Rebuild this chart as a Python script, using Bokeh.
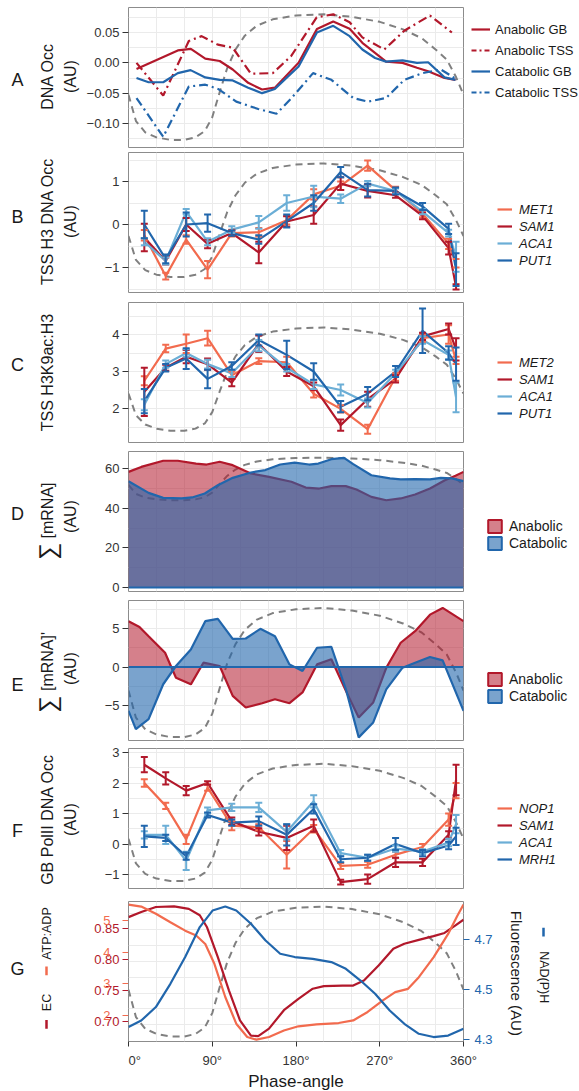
import math
from bokeh.plotting import figure
from bokeh.models import (Range1d, LinearAxis, FixedTicker, Label, Legend, LegendItem,
                          Whisker, TeeHead, ColumnDataSource, Span)
from bokeh.layouts import column, row
from bokeh.embed import file_html
from bokeh.resources import INLINE

# ------------------------------------------------------------------ data
phase_ticks = [0, 90, 180, 270, 360]
phase_labels = ["0°", "90°", "180°", "270°", "360°"]

# dashed reference trace (normalised 0..1), drawn in every panel
ref_x = [0, 8, 18, 30, 45, 60, 72, 82, 90, 98, 106, 115, 125, 138, 155, 180, 210, 240, 270, 295, 315, 330, 342, 352, 360]
ref_n = [0.36, 0.15, 0.06, 0.02, 0.0, 0.0, 0.02, 0.07, 0.18, 0.38, 0.57, 0.72, 0.83, 0.91, 0.96, 0.99, 1.0, 0.98, 0.94, 0.88, 0.81, 0.72, 0.64, 0.5, 0.36]
ref_lim = {"A": (-0.127, 0.080), "B": (-1.22, 1.42), "C": (1.40, 4.19), "D": (44.0, 65.5),
           "E": (-9.1, 7.67), "F": (-1.21, 2.63), "G": (0.6815, 0.8868)}

# Panel A: DNA occupancy
a_agb_x = [8.6, 53, 67, 82.5, 98, 112, 128.6, 143.5, 157.3, 182.8, 202.5, 220, 237.6, 251.3, 276.8, 294.5, 310, 322, 339.6, 351.4]
a_agb_y = [-0.010, 0.0205, 0.023, 0.007, 0.003, -0.011, -0.033, -0.044, -0.041, 0.000, 0.0556, 0.068, 0.056, 0.033, 0.002, 0.000, -0.008, -0.014, -0.025, -0.028]
a_atss_x = [8.6, 37.3, 64.8, 78.5, 96, 112, 131.5, 155, 174.7, 202.2, 220, 237.6, 251.3, 274.9, 296.4, 323.9, 347.5]
a_atss_y = [0.000, -0.054, 0.036, 0.044, 0.030, 0.025, -0.018, -0.017, 0.011, 0.075, 0.080, 0.067, 0.042, 0.022, 0.053, 0.078, 0.050]
a_cgb_x = [8.6, 21.6, 37.3, 53, 66.7, 82.5, 98, 112, 128.6, 143.5, 157.3, 182.8, 202.5, 220, 237.6, 251.3, 265, 276.8, 294.5, 310, 322, 339.6, 351.4]
a_cgb_y = [-0.025, -0.032, -0.032, -0.017, -0.012, -0.024, -0.028, -0.029, -0.041, -0.050, -0.043, -0.006, 0.050, 0.061, 0.044, 0.022, 0.008, 0.002, 0.004, 0.000, 0.001, -0.024, -0.028]
a_ctss_x = [8.6, 37.3, 64.8, 82.5, 96.2, 115.8, 139.4, 159, 174.7, 198.3, 218, 241.5, 257.2, 276.8, 296.4, 316, 335.7, 351.4]
a_ctss_y = [-0.058, -0.122, -0.039, -0.036, -0.043, -0.064, -0.076, -0.084, -0.059, -0.017, -0.028, -0.058, -0.064, -0.058, -0.028, -0.017, -0.011, -0.026]

# sampling phases for B, C, F
phase = [17, 40, 62, 85, 111, 140, 170, 199, 228, 257, 287, 316, 344, 352]

# Panel B: TSS H3 DNA occupancy
b_met1 = [-0.25, -1.2, -0.35, -1.05, -0.2, -0.18, 0.1, 0.7, 0.9, 1.37, 0.8, 0.25, -0.45, -0.9]
b_met1_e = [0.12, 0.08, 0.1, 0.2, 0.08, 0.1, 0.1, 0.12, 0.1, 0.12, 0.08, 0.08, 0.12, 0.1]
b_sam1 = [-0.3, -0.85, 0.0, -0.45, -0.2, -0.65, 0.07, 0.22, 0.95, 0.78, 0.68, 0.2, -0.55, -1.45]
b_sam1_e = [0.32, 0.08, 0.15, 0.1, 0.06, 0.25, 0.12, 0.2, 0.15, 0.15, 0.06, 0.08, 0.15, 0.06]
b_aca1 = [-0.4, -0.85, 0.3, -0.4, -0.12, 0.05, 0.5, 0.65, 0.6, 0.95, 0.78, 0.3, -0.2, -0.75]
b_aca1_e = [0.08, 0.08, 0.06, 0.08, 0.08, 0.15, 0.18, 0.25, 0.1, 0.06, 0.06, 0.06, 0.08, 0.35]
b_put1 = [0.0, -0.8, 0.0, 0.03, -0.2, -0.35, 0.08, 0.5, 1.22, 0.8, 0.78, 0.42, -0.1, -1.05]
b_put1_e = [0.32, 0.1, 0.28, 0.2, 0.06, 0.1, 0.15, 0.18, 0.12, 0.15, 0.08, 0.08, 0.12, 0.38]

# Panel C: TSS H3K9ac:H3
c_met2 = [2.75, 3.62, 3.75, 3.9, 2.9, 3.28, 3.25, 2.4, 1.99, 1.44, 2.85, 3.9, 4.0, 3.3]
c_met2_e = [0.12, 0.1, 0.25, 0.2, 0.1, 0.08, 0.15, 0.1, 0.1, 0.12, 0.1, 0.1, 0.25, 0.1]
c_sam1 = [2.45, 3.1, 3.4, 3.2, 2.7, 3.75, 3.0, 2.6, 1.55, 2.25, 2.8, 3.95, 4.15, 3.6]
c_sam1_e = [0.65, 0.08, 0.18, 0.15, 0.1, 0.22, 0.12, 0.1, 0.15, 0.2, 0.1, 0.1, 0.15, 0.3]
c_aca1 = [2.1, 3.2, 3.5, 3.2, 2.95, 3.7, 3.1, 2.65, 2.5, 2.15, 2.95, 3.85, 3.45, 2.3]
c_aca1_e = [0.15, 0.1, 0.1, 0.12, 0.1, 0.15, 0.1, 0.12, 0.15, 0.12, 0.1, 0.1, 0.12, 0.4]
c_put1 = [2.2, 3.1, 3.35, 2.8, 3.15, 3.85, 3.45, 3.0, 2.05, 2.4, 3.0, 4.1, 3.5, 3.2]
c_put1_e = [0.33, 0.1, 0.28, 0.25, 0.1, 0.15, 0.38, 0.22, 0.15, 0.18, 0.15, 0.6, 0.18, 0.45]

# Panel D: summed mRNA
d_ana_x = [0, 13.7, 37.3, 53, 72.6, 84, 98, 112, 131.5, 151, 175, 190.5, 205, 218, 233.5, 245, 261, 277, 292.5, 308, 324, 340, 351.4, 360]
d_ana_y = [58.3, 60.8, 63.9, 63.9, 62.5, 62.0, 63.4, 61.7, 57.5, 55.8, 53.3, 50.4, 49.9, 51.1, 51.1, 49.4, 45.7, 44.0, 44.9, 46.9, 49.9, 54.1, 56.3, 58.3]
d_cat_x = [0, 21.6, 37.3, 57, 68.3, 82, 96, 112, 131.5, 147, 163, 178.6, 194, 204, 218, 231.6, 241.5, 261, 281, 292.5, 308, 324, 335.6, 347.4, 360]
d_cat_y = [53.6, 47.7, 45.2, 44.9, 45.4, 47.4, 51.6, 55.3, 58.0, 59.2, 62.0, 63.0, 62.0, 62.5, 64.7, 65.4, 62.2, 56.6, 55.0, 54.5, 54.6, 54.5, 55.3, 55.0, 53.6]

# Panel E: derivative of summed mRNA
e_ana_x = [0, 11.8, 21.6, 39.3, 51, 67, 80.5, 98, 112, 126, 143.7, 157.4, 173, 187, 202.6, 218, 233.6, 247.4, 263, 277, 292.5, 308, 324, 337.6, 360]
e_ana_y = [5.95, 5.2, 4.0, 1.85, -1.4, -2.25, 0.56, 0.13, -3.75, -5.26, -4.7, -4.18, -4.7, -3.3, 0.34, 1.0, -3.1, -6.55, -4.6, -0.1, 3.15, 4.65, 6.8, 7.67, 5.95]
e_cat_x = [0, 7.9, 21.6, 37.3, 51, 67, 82.5, 96, 112, 126, 141.7, 157.4, 173, 187, 202.6, 218, 233.6, 247.4, 263, 277, 294.5, 308, 324, 337.6, 360]
e_cat_y = [-5.7, -8.06, -6.77, -2.24, 0.13, 2.28, 5.95, 6.25, 3.66, 3.7, 4.96, 4.0, 0.34, -0.52, 2.5, 2.63, -2.9, -9.14, -7.2, -2.9, -0.09, 0.56, 1.3, 0.86, -5.7]

# Panel F: GB PolII DNA occupancy
f_nop1 = [2.0, 1.25, 0.15, 1.85, 0.6, 0.55, -0.35, 0.5, -0.72, -0.68, -0.35, -0.1, 0.8, 1.75]
f_nop1_e = [0.12, 0.1, 0.15, 0.1, 0.15, 0.1, 0.45, 0.12, 0.1, 0.1, 0.1, 0.1, 0.2, 0.25]
f_sam1 = [2.6, 2.15, 1.75, 2.0, 0.75, 0.4, 0.2, 0.6, -1.25, -1.15, -0.6, -0.6, 0.3, 2.1]
f_sam1_e = [0.25, 0.2, 0.15, 0.06, 0.12, 0.12, 0.4, 0.2, 0.08, 0.15, 0.15, 0.12, 0.12, 0.5]
f_aca1 = [0.3, 0.3, -0.55, 1.1, 1.2, 1.2, 0.4, 1.4, -0.3, -0.45, -0.15, -0.25, 0.05, 0.65]
f_aca1_e = [0.12, 0.3, 0.3, 0.1, 0.12, 0.15, 0.25, 0.2, 0.1, 0.1, 0.1, 0.08, 0.12, 0.3]
f_mrh1 = [0.25, 0.2, -0.4, 0.95, 0.7, 0.75, 0.3, 1.15, -0.5, -0.45, 0.0, -0.3, -0.05, 0.25]
f_mrh1_e = [0.35, 0.1, 0.12, 0.08, 0.1, 0.15, 0.35, 0.15, 0.1, 0.1, 0.2, 0.1, 0.12, 0.28]

# Panel G: energy charge, ATP:ADP, NAD(P)H
g_ec_x = [0, 13.7, 29.4, 49, 64.8, 76.6, 84.4, 96, 108, 119.8, 131.6, 139.4, 151, 167, 182.6, 198, 210, 230, 241.5, 253, 269, 284.6, 296.4, 312, 327.8, 339.6, 351.4, 360]
g_ec_y = [0.870, 0.878, 0.886, 0.887, 0.883, 0.873, 0.854, 0.807, 0.754, 0.707, 0.683, 0.682, 0.694, 0.723, 0.741, 0.757, 0.761, 0.762, 0.762, 0.770, 0.794, 0.820, 0.828, 0.834, 0.840, 0.845, 0.857, 0.866]
g_atp_x = [0, 13.7, 29.4, 45, 60.9, 72.7, 82.5, 92.3, 104, 115.8, 127.6, 137.4, 151, 167, 182.6, 202, 225.8, 241.5, 257, 273, 286.6, 300.4, 312, 327.8, 343.5, 353.4, 360]
g_atp_y = [5.51, 5.45, 5.23, 4.97, 4.71, 4.56, 4.30, 3.69, 2.67, 1.85, 1.44, 1.36, 1.44, 1.64, 1.77, 1.83, 1.87, 1.95, 2.21, 2.56, 2.82, 2.92, 3.28, 3.89, 4.61, 5.17, 5.51]
g_nad_x = [0, 13.7, 29.4, 45, 60.9, 76.6, 90.3, 104, 115.8, 131.6, 147.3, 163, 178.6, 198, 218, 233.6, 249.3, 265, 280.7, 296.4, 312, 327.8, 343.5, 360]
g_nad_y = [4.351, 4.377, 4.431, 4.524, 4.631, 4.751, 4.817, 4.833, 4.817, 4.764, 4.697, 4.644, 4.631, 4.624, 4.611, 4.584, 4.537, 4.484, 4.417, 4.364, 4.324, 4.311, 4.317, 4.344]

ec_ticks = [0.70, 0.75, 0.80, 0.85]
ec_labels = ["0.70", "0.75", "0.80", "0.85"]
atp_ticks = [2, 3, 4, 5]
nad_ticks = [4.3, 4.5, 4.7]

# ------------------------------------------------------------------ style / layout
FONT = "Liberation Sans"
TXT = "#1A1A1A"
TICK = "#333333"
DRED = "#B2182B"
SALM = "#F26B4E"
LBLU = "#6BAED6"
DBLU = "#2166AC"
DASHC = "#808080"
GRID = "#EBEBEB"
BORDER = "#8C8C8C"

TOTAL_W = 578
FRAME_L = 128          # page x of the plotting frame
FRAME_W = 335
FH = 140
LW = 80                # width of the left title strip (A-F)
PB_L = FRAME_L - LW    # panel figure left border (A-F)
PB_R = 5
PB_R_G = 36

# row top (page y), border top, border bottom
spec = {"A": (0, 7, 4), "B": (151, 1, 9), "C": (301, 1, 8), "D": (450, 1, 8),
        "E": (599, 1, 3), "F": (743, 5, 12), "G": (900, 1, 48)}


def rh(k):
    return spec[k][1] + FH + spec[k][2]


def ftop(k):
    return spec[k][0] + spec[k][1]


def calib(v1, p1, v2, p2, top):
    ppu = (p2 - p1) / (v1 - v2)
    t = v1 + (p1 - top) / ppu
    return (t - FH / ppu, t)


rng = {
    "A": calib(0.05, 32, -0.10, 123, ftop("A")),
    "B": calib(1, 181, -1, 267, ftop("B")),
    "C": calib(4, 334, 2, 408, ftop("C")),
    "D": calib(60, 468, 0, 587, ftop("D")),
    "E": calib(5, 628, -5, 705, ftop("E")),
    "F": calib(3, 752, -1, 874, ftop("F")),
    "G": calib(0.85, 929.3, 0.70, 1024.3, ftop("G")),
}
rng_atp = calib(5, 920.7, 2, 1018.3, ftop("G"))
rng_nad = calib(4.7, 939.3, 4.3, 1039.3, ftop("G"))


def style_y(ax, color=TICK, standoff=3):
    ax.axis_line_color = None
    ax.major_tick_line_color = color
    ax.major_tick_out = 6
    ax.major_tick_in = 0
    ax.minor_tick_line_color = None
    ax.major_label_text_font = FONT
    ax.major_label_text_font_size = "13px"
    ax.major_label_text_color = color
    ax.major_label_standoff = standoff


def blank(w, k):
    # side strip of a row; its frame is aligned with the panel frame (FH tall)
    f = figure(width=w, height=rh(k), x_range=Range1d(0, w), y_range=Range1d(0, FH),
               output_backend="svg", toolbar_location=None,
               x_axis_location=None, y_axis_location=None,
               min_border_left=0, min_border_right=0,
               min_border_top=spec[k][1], min_border_bottom=spec[k][2])
    f.xgrid.visible = False
    f.ygrid.visible = False
    f.outline_line_color = None
    f.background_fill_color = "white"
    f.border_fill_color = "white"
    return f


def txt(f, left, k, px, py, text, size, angle=0.0, color=TXT, align="center", style="normal"):
    f.add_layout(Label(x=px - left, y=ftop(k) + FH - py, text=text, text_font=FONT,
                       text_font_size=f"{size}px", text_color=color, text_align=align,
                       text_baseline="middle", angle=angle, text_font_style=style))


def panel_fig(k, yticks, ylabels, grid, left_b=PB_L, right_b=PB_R, yaxis=True, xaxis=False):
    p = figure(frame_width=FRAME_W, frame_height=FH,
               x_range=Range1d(0, 360), y_range=Range1d(*rng[k]),
               output_backend="svg", toolbar_location=None,
               x_axis_location="below" if xaxis else None,
               y_axis_location="left" if yaxis else None,
               min_border_left=left_b, min_border_right=right_b,
               min_border_top=spec[k][1], min_border_bottom=spec[k][2])
    p.outline_line_color = BORDER
    p.outline_line_width = 1
    p.background_fill_color = "white"
    p.border_fill_color = "white"
    p.xgrid[0].ticker = FixedTicker(ticks=list(range(0, 361, 30)))
    p.ygrid[0].ticker = FixedTicker(ticks=grid)
    for g in (p.xgrid[0], p.ygrid[0]):
        g.grid_line_color = GRID
        g.grid_line_width = 1
    if yaxis:
        ya = p.yaxis[0]
        ya.ticker = FixedTicker(ticks=yticks)
        ya.major_label_overrides = dict(zip(yticks, ylabels))
        style_y(ya)
    return p


def dashed(p, k, **kw):
    lo, hi = ref_lim[k]
    p.line(ref_x, [lo + n * (hi - lo) for n in ref_n], line_color=DASHC, line_width=2,
           line_dash="7 5", **kw)


def err_series(p, x, y, e, color):
    p.line(x, y, line_color=color, line_width=2.2)
    src = ColumnDataSource(dict(x=x, lo=[a - b for a, b in zip(y, e)], hi=[a + b for a, b in zip(y, e)]))
    p.add_layout(Whisker(base="x", lower="lo", upper="hi", source=src, line_color=color, line_width=2,
                         upper_head=TeeHead(size=7, line_color=color, line_width=2),
                         lower_head=TeeHead(size=7, line_color=color, line_width=2), level="glyph"))


# legend proxies live in the side strips, one point far outside the visible strip
OFF = [-1000]


def key_line(f, color, dash="solid"):
    return f.line(OFF, OFF, line_color=color, line_width=2.2, line_dash=dash)


def key_box(f, color, alpha):
    return f.quad(left=OFF, right=[-999], bottom=OFF, top=[-999], fill_color=color,
                  fill_alpha=alpha, line_color=color, line_width=2)


def legend_in(f, left, k, items, key_left, top_px, gw, gh, spacing, size, italic=False, standoff=6):
    n = len(items)
    lh = n * gh + (n - 1) * spacing
    x = key_left - left
    y = (ftop(k) + FH) - (top_px + lh)
    f.add_layout(Legend(items=items, location=(x, y), orientation="vertical",
                        glyph_width=gw, glyph_height=gh, spacing=spacing, padding=0, margin=0,
                        label_standoff=standoff, label_height=gh, label_width=10,
                        label_text_font=FONT, label_text_font_size=f"{size}px",
                        label_text_font_style="italic" if italic else "normal",
                        label_text_color=TXT, label_text_baseline="middle",
                        border_line_color=None, background_fill_alpha=0))


def gene_legend(rf, k, names, top_px):
    cols = [SALM, DRED, LBLU, DBLU]
    items = [LegendItem(label=n, renderers=[key_line(rf, c)]) for n, c in zip(names, cols)]
    legend_in(rf, RIGHT_L, k, items, 497, top_px, 15, 16, 1, 13, italic=True, standoff=7)


def area_legend(rf, k, top_px):
    ka = key_box(rf, DRED, 0.55)
    kc = key_box(rf, DBLU, 0.6)
    legend_in(rf, RIGHT_L, k, [LegendItem(label="Anabolic", renderers=[ka]),
                               LegendItem(label="Catabolic", renderers=[kc])],
              486, top_px, 17, 16, 1, 14, standoff=6)


def area_panel(p, ax_, ay, cx, cy):
    p.varea(x=ax_, y1=0, y2=ay, fill_color=DRED, fill_alpha=0.55)
    p.line(ax_, ay, line_color=DRED, line_width=2.2)
    p.varea(x=cx, y1=0, y2=cy, fill_color=DBLU, fill_alpha=0.6)
    p.line(cx, cy, line_color=DBLU, line_width=2.2)
    p.add_layout(Span(location=0, dimension="width", line_color=DBLU, line_width=2.2))


def ytitle(lf, k, lines, yc):
    for x, t in zip([47, 70], lines):
        txt(lf, 0, k, x, yc, t, 16, angle=math.pi / 2)


RIGHT_L = LW + PB_L + FRAME_W + PB_R          # page x where right strip starts (A-F)
RW = TOTAL_W - RIGHT_L
rows = []

# ---------------- A
k = "A"
lf, rf = blank(LW, k), blank(RW, k)
pA = panel_fig(k, [0.05, 0.0, -0.05, -0.10], ["0.05", "0.00", "−0.05", "−0.10"],
               [0.075, 0.05, 0.025, 0.0, -0.025, -0.05, -0.075, -0.10, -0.125])
dashed(pA, k)
pA.line(a_agb_x, a_agb_y, line_color=DRED, line_width=2.2)
pA.line(a_atss_x, a_atss_y, line_color=DRED, line_width=2.2, line_dash="9 4 2 4")
pA.line(a_cgb_x, a_cgb_y, line_color=DBLU, line_width=2.2)
pA.line(a_ctss_x, a_ctss_y, line_color=DBLU, line_width=2.2, line_dash="9 4 2 4")
itemsA = [LegendItem(label="Anabolic GB", renderers=[key_line(rf, DRED)]),
          LegendItem(label="Anabolic TSS", renderers=[key_line(rf, DRED, "5 3 2 3")]),
          LegendItem(label="Catabolic GB", renderers=[key_line(rf, DBLU)]),
          LegendItem(label="Catabolic TSS", renderers=[key_line(rf, DBLU, "5 3 2 3")])]
legend_in(rf, RIGHT_L, k, itemsA, 471, 20, 19, 18, 3, 13, standoff=5)
txt(lf, 0, k, 17, 79, "A", 18)
ytitle(lf, k, ["DNA Occ", "(AU)"], 76)
rows.append(row(lf, pA, rf, spacing=0))

# ---------------- B
k = "B"
lf, rf = blank(LW, k), blank(RW, k)
pB = panel_fig(k, [1, 0, -1], ["1", "0", "−1"], [1.5, 1, 0.5, 0, -0.5, -1, -1.5])
dashed(pB, k)
for y, e, c in [(b_met1, b_met1_e, SALM), (b_sam1, b_sam1_e, DRED), (b_aca1, b_aca1_e, LBLU), (b_put1, b_put1_e, DBLU)]:
    err_series(pB, phase, y, e, c)
gene_legend(rf, k, ["MET1", "SAM1", "ACA1", "PUT1"], 201)
txt(lf, 0, k, 17, 216, "B", 18)
ytitle(lf, k, ["TSS H3 DNA Occ", "(AU)"], 221)
rows.append(row(lf, pB, rf, spacing=0))

# ---------------- C
k = "C"
lf, rf = blank(LW, k), blank(RW, k)
pC = panel_fig(k, [4, 3, 2], ["4", "3", "2"], [4.5, 4, 3.5, 3, 2.5, 2, 1.5])
dashed(pC, k)
for y, e, c in [(c_met2, c_met2_e, SALM), (c_sam1, c_sam1_e, DRED), (c_aca1, c_aca1_e, LBLU), (c_put1, c_put1_e, DBLU)]:
    err_series(pC, phase, y, e, c)
gene_legend(rf, k, ["MET2", "SAM1", "ACA1", "PUT1"], 354)
txt(lf, 0, k, 17, 364, "C", 18)
ytitle(lf, k, ["TSS H3K9ac:H3"], 372)
rows.append(row(lf, pC, rf, spacing=0))

# ---------------- D
k = "D"
lf, rf = blank(LW, k), blank(RW, k)
pD = panel_fig(k, [60, 40, 20, 0], ["60", "40", "20", "0"], [60, 50, 40, 30, 20, 10, 0])
dashed(pD, k)
area_panel(pD, d_ana_x, d_ana_y, d_cat_x, d_cat_y)
area_legend(rf, k, 518)
txt(lf, 0, k, 17, 513, "D", 18)
txt(lf, 0, k, 47, 551, "∑", 24, angle=math.pi / 2)
txt(lf, 0, k, 47, 510, "[mRNA]", 16, angle=math.pi / 2)
txt(lf, 0, k, 70, 516, "(AU)", 16, angle=math.pi / 2)
rows.append(row(lf, pD, rf, spacing=0))

# ---------------- E
k = "E"
lf, rf = blank(LW, k), blank(RW, k)
pE = panel_fig(k, [5, 0, -5], ["5", "0", "−5"], [7.5, 5, 2.5, 0, -2.5, -5, -7.5])
dashed(pE, k)
area_panel(pE, e_ana_x, e_ana_y, e_cat_x, e_cat_y)
area_legend(rf, k, 671)
txt(lf, 0, k, 17, 684, "E", 18)
txt(lf, 0, k, 47, 704, "∑", 24, angle=math.pi / 2)
txt(lf, 0, k, 47, 661, "[mRNA]'", 16, angle=math.pi / 2)
txt(lf, 0, k, 70, 668, "(AU)", 16, angle=math.pi / 2)
rows.append(row(lf, pE, rf, spacing=0))

# ---------------- F
k = "F"
lf, rf = blank(LW, k), blank(RW, k)
pF = panel_fig(k, [3, 2, 1, 0, -1], ["3", "2", "1", "0", "−1"], [3, 2.5, 2, 1.5, 1, 0.5, 0, -0.5, -1, -1.5])
dashed(pF, k)
for y, e, c in [(f_nop1, f_nop1_e, SALM), (f_sam1, f_sam1_e, DRED), (f_aca1, f_aca1_e, LBLU), (f_mrh1, f_mrh1_e, DBLU)]:
    err_series(pF, phase, y, e, c)
gene_legend(rf, k, ["NOP1", "SAM1", "ACA1", "MRH1"], 800)
txt(lf, 0, k, 17, 830, "F", 18)
ytitle(lf, k, ["GB PolII DNA Occ", "(AU)"], 819)
rows.append(row(lf, pF, rf, spacing=0))

# ---------------- G
k = "G"
# left strip of G carries both left axes, overlapping as in the original
lg = blank(FRAME_L, k)
lg.extra_y_ranges = {"ec": Range1d(*rng["G"]), "atp": Range1d(*rng_atp)}
ax_ec = LinearAxis(y_range_name="ec", fixed_location=FRAME_L, ticker=FixedTicker(ticks=ec_ticks))
ax_ec.major_label_overrides = dict(zip(ec_ticks, ec_labels))
style_y(ax_ec, DRED)
lg.add_layout(ax_ec, "left")
ax_atp = LinearAxis(y_range_name="atp", fixed_location=FRAME_L, ticker=FixedTicker(ticks=atp_ticks))
style_y(ax_atp, SALM, standoff=12)
lg.add_layout(ax_atp, "left")
txt(lg, 0, k, 17, 970, "G", 18)
txt(lg, 0, k, 46, 934, "ATP:ADP", 12.5, angle=math.pi / 2)
txt(lg, 0, k, 46, 1005, "EC", 12.5, angle=math.pi / 2)
fb = ftop(k) + FH
lg.segment(x0=[46, 46], y0=[fb - 968, fb - 1023], x1=[46, 46], y1=[fb - 977, fb - 1032],
           line_color=[SALM, DRED], line_width=2.5)

pG = panel_fig(k, [], [], [0.70, 0.725, 0.75, 0.775, 0.80, 0.825, 0.85, 0.875],
               left_b=0, right_b=PB_R_G, yaxis=False, xaxis=True)
pG.extra_y_ranges = {"atp": Range1d(*rng_atp), "nad": Range1d(*rng_nad)}
dashed(pG, k)
pG.line(g_ec_x, g_ec_y, line_color=DRED, line_width=2.2)
pG.line(g_atp_x, g_atp_y, line_color=SALM, line_width=2.2, y_range_name="atp")
pG.line(g_nad_x, g_nad_y, line_color=DBLU, line_width=2.2, y_range_name="nad")
rax = LinearAxis(y_range_name="nad", ticker=FixedTicker(ticks=nad_ticks))
rax.major_label_overrides = {4.3: "4.3", 4.5: "4.5", 4.7: "4.7"}
style_y(rax, DBLU, standoff=5)
pG.add_layout(rax, "right")
xa = pG.xaxis[0]
xa.ticker = FixedTicker(ticks=phase_ticks)
xa.major_label_overrides = dict(zip(phase_ticks, phase_labels))
xa.axis_line_color = None
xa.major_tick_line_color = TICK
xa.major_tick_out = 5
xa.major_tick_in = 0
xa.minor_tick_line_color = None
xa.major_label_text_font = FONT
xa.major_label_text_font_size = "13px"
xa.major_label_text_color = TICK
xa.major_label_standoff = 6
xa.axis_label = "Phase-angle"
xa.axis_label_text_font = FONT
xa.axis_label_text_font_size = "17px"
xa.axis_label_text_font_style = "normal"
xa.axis_label_text_color = TXT
xa.axis_label_standoff = 1

RG_L = FRAME_L + FRAME_W + PB_R_G
rg = blank(TOTAL_W - RG_L, k)
txt(rg, RG_L, k, 516, 975, "Fluorescence (AU)", 15, angle=-math.pi / 2)
txt(rg, RG_L, k, 543, 979, "NAD(P)H", 12.5, angle=-math.pi / 2)
rg.segment(x0=[543 - RG_L], y0=[fb - 928], x1=[543 - RG_L], y1=[fb - 937],
           line_color=DBLU, line_width=2.5)
rows.append(row(lg, pG, rg, spacing=0))

layout = column(*rows, spacing=0)
open("out.html", "w").write(file_html(layout, INLINE))
